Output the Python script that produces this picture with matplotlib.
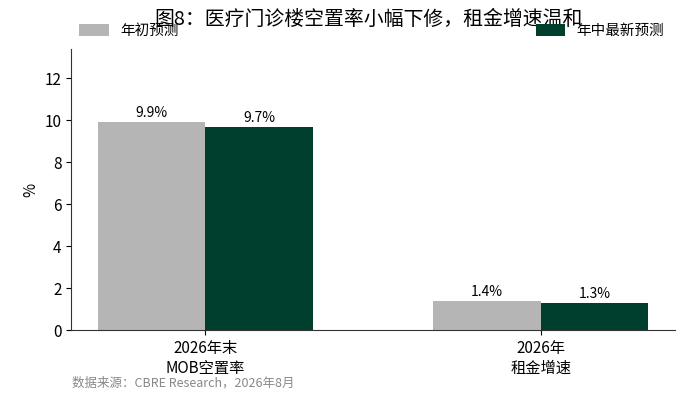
import numpy as np
import matplotlib
matplotlib.use('Agg')
import matplotlib.pyplot as plt

plt.rcParams['font.family'] = ['Noto Sans CJK SC', 'DejaVu Sans']
plt.rcParams['axes.unicode_minus'] = False

# 数据
categories = ['2026年末\nMOB空置率', '2026年\n租金增速']
early = [9.9, 1.4]
latest = [9.7, 1.3]
labels = ['年初预测', '年中最新预测']

fig = plt.figure(figsize=(6.98, 4.08), dpi=100)
ax = fig.add_axes([0.102, 0.19, 0.865, 0.69])

x = np.arange(len(categories))
w = 0.32
b1 = ax.bar(x - w / 2, early, w, color='#b5b5b5', label=labels[0])
b2 = ax.bar(x + w / 2, latest, w, color='#003f2d', label=labels[1])

for bars in (b1, b2):
    for r in bars:
        ax.text(r.get_x() + r.get_width() / 2, r.get_height() + 0.1, f'{r.get_height():.1f}%',
                ha='center', va='bottom', fontsize=10)

ax.set_xlim(-0.4, 1.4)
ax.set_ylim(0, 13.4)
ax.set_yticks([0, 2, 4, 6, 8, 10, 12])
ax.set_xticks(x)
ax.set_xticklabels(categories, fontsize=11)
ax.tick_params(axis='y', labelsize=11)
ax.set_ylabel('%', fontsize=11)
ax.spines['top'].set_visible(False)
ax.spines['right'].set_visible(False)
ax.spines['left'].set_color('#333333')
ax.spines['bottom'].set_color('#333333')

fig.text(0.528, 0.953, '图8：医疗门诊楼空置率小幅下修，租金增速温和', ha='center', va='center', fontsize=14.3)
fig.legend(handles=[b1], loc='center left', bbox_to_anchor=(0.095, 0.925), frameon=False, fontsize=10.5,
           handlelength=2.0, handleheight=0.9, handletextpad=0.8)
fig.legend(handles=[b2], loc='center left', bbox_to_anchor=(0.749, 0.925), frameon=False, fontsize=10.5,
           handlelength=2.0, handleheight=0.9, handletextpad=0.8)
fig.text(0.103, 0.06, '数据来源：CBRE Research，2026年8月', fontsize=9, color='#888888', va='center')

plt.savefig('out.png', dpi=100)
